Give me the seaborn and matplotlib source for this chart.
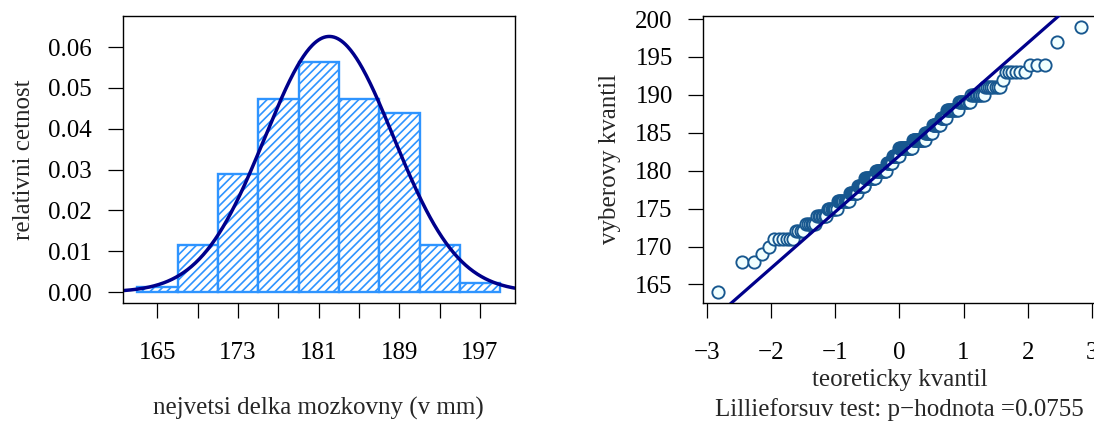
import numpy as np
import pandas as pd
import matplotlib
matplotlib.use("Agg")
import matplotlib.pyplot as plt
import seaborn as sns
from statistics import NormalDist

# ---- data: skull length values (mm) and their frequencies ----
values = [164, 168, 169, 170, 171, 172, 173, 174, 175, 176, 177, 178, 179, 180,
          181, 182, 183, 184, 185, 186, 187, 188, 189, 190, 191, 192, 193, 194,
          197, 199]
counts = [1, 2, 1, 1, 6, 4, 6, 7, 8, 11, 9, 8, 13, 14,
          8, 9, 18, 16, 9, 9, 7, 11, 10, 9, 8, 1, 6, 3,
          1, 1]
bin_edges = [163, 167, 171, 175, 179, 183, 187, 191, 195, 199]
hist_xticks = [165, 169, 173, 177, 181, 185, 189, 193, 197]
hist_xticklabels = ["165", "", "173", "", "181", "", "189", "", "197"]
hist_yticks = [0.00, 0.01, 0.02, 0.03, 0.04, 0.05, 0.06]
qq_xticks = [-3, -2, -1, 0, 1, 2, 3]
qq_yticks = [165, 170, 175, 180, 185, 190, 195, 200]
p_value = 0.0755

data = np.repeat(values, counts).astype(float)
n = len(data)

sns.set_theme(style="ticks")
plt.rcParams["font.family"] = ["Liberation Serif", "DejaVu Serif"]
plt.rcParams["hatch.linewidth"] = 1.2
plt.rcParams["axes.linewidth"] = 1.0

FS = 18
BLUE = "#2E94FF"
NAVY = "#00008B"

fig = plt.figure(figsize=(10.94, 4.21), dpi=100)
ax1 = fig.add_axes([0.11216, 0.2810, 0.3583, 0.681])
ax2 = fig.add_axes([0.64287, 0.2810, 0.3586, 0.681])

# ---- histogram (right-closed bins as in R) ----
binned = pd.cut(pd.Series(data), bins=bin_edges, right=True).value_counts(sort=False)
mids = [(a + b) / 2 for a, b in zip(bin_edges[:-1], bin_edges[1:])]
sns.histplot(x=mids, weights=binned.values, bins=bin_edges, stat="density",
             color="white", edgecolor=BLUE, linewidth=1.7, alpha=1.0,
             hatch="////", ax=ax1)

x_lo, x_hi = 163 - 0.04 * 36, 199 + 0.04 * 36
mu, sd = data.mean(), data.std(ddof=1)
xs = np.linspace(x_lo, x_hi, 400)
dens = np.exp(-0.5 * ((xs - mu) / sd) ** 2) / (sd * np.sqrt(2 * np.pi))
sns.lineplot(x=xs, y=dens, color=NAVY, linewidth=2.5, ax=ax1)

ax1.set_xlim(x_lo, x_hi)
ax1.set_ylim(-0.04 * 0.065, 0.065 * 1.04)
ax1.set_xticks(hist_xticks)
ax1.set_xticklabels(hist_xticklabels)
ax1.set_yticks(hist_yticks)
ax1.set_yticklabels([f"{v:.2f}" for v in hist_yticks])
ax1.set_xlabel("nejvetsi delka mozkovny (v mm)", fontsize=FS, labelpad=24)
ax1.set_ylabel("relativni cetnost", fontsize=FS, labelpad=10)

# ---- QQ plot ----
sample = np.sort(data)
nd = NormalDist()
probs = (np.arange(1, n + 1) - 0.5) / n
theo = np.array([nd.inv_cdf(p) for p in probs])
sns.scatterplot(x=theo, y=sample, s=78, color="#F0FFFF", edgecolor="#17578F",
                linewidth=1.35, ax=ax2, zorder=3)

q1, q3 = np.quantile(sample, [0.25, 0.75])
z1, z3 = nd.inv_cdf(0.25), nd.inv_cdf(0.75)
slope = (q3 - q1) / (z3 - z1)
intercept = q1 - slope * z1
lx = np.array([-3.5, 3.5])
sns.lineplot(x=lx, y=intercept + slope * lx, color=NAVY, linewidth=2.3, ax=ax2, zorder=4)

xr = theo.max()
ax2.set_xlim(-xr - 0.08 * xr, xr + 0.08 * xr)
ax2.set_ylim(164 - 0.04 * 35, 199 + 0.04 * 35)
ax2.set_xticks(qq_xticks)
ax2.set_yticks(qq_yticks)
ax2.set_xlabel("teoreticky kvantil\nLillieforsuv test: p\u2212hodnota =" + f"{p_value}",
               fontsize=FS, labelpad=4, linespacing=1.38)
ax2.set_ylabel("vyberovy kvantil", fontsize=FS, labelpad=10)

for ax in (ax1, ax2):
    for s in ax.spines.values():
        s.set_visible(True)
        s.set_color("black")
        s.set_linewidth(1.0)
    ax.tick_params(axis="both", direction="out", length=11, width=0.9,
                   labelsize=FS, colors="black")
    ax.tick_params(axis="x", pad=17)
    ax.tick_params(axis="y", pad=11)
    ax.grid(False)

fig.savefig("out.png", dpi=100)
